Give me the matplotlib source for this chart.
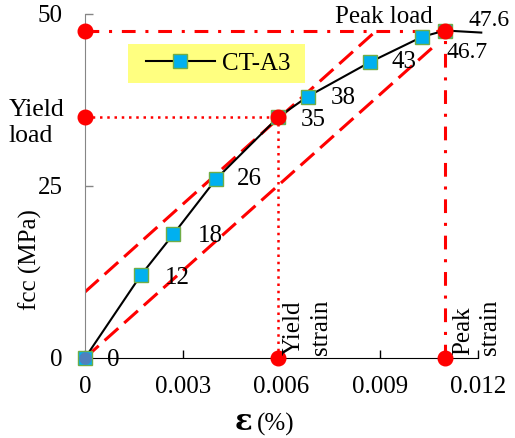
import numpy as np
import matplotlib.pyplot as plt
from matplotlib.lines import Line2D
from matplotlib.patches import Rectangle

plt.rcParams['font.family'] = ['Liberation Serif', 'DejaVu Serif']

# stress-strain data of CT-A3
strain = [0, 0.0017, 0.0027, 0.0040, 0.0059, 0.0068, 0.0087, 0.0103, 0.0110, 0.0121]
fcc = [0, 12, 18, 26, 35, 38, 43, 46.7, 47.6, 47.3]
n_marked = 9
point_labels = ['0', '12', '18', '26', '35', '38', '43', '46.7', '47.6']
label_offsets = [(22, -2), (24, -3), (24, -2), (21, 0), (23, -3), (23, -1), (22, 0), (24, -16), (23, 10)]

yield_strain = 0.0059
yield_load = 35
peak_strain = 0.011
peak_load = 47.6

# parallel lines used to locate yield point
upper_x = [0, 0.0089]
upper_y = [9.6, 47.6]
lower_x = [0, 0.0107]
lower_y = [0, 45.5]

xticks = [0, 0.003, 0.006, 0.009, 0.012]
xticklabels = ['0', '0.003', '0.006', '0.009', '0.012']
yticks = [0, 25, 50]

W, H = 515, 438


def fx(px):
    return px / W


def fy(py):
    return 1 - py / H


fig = plt.figure(figsize=(W / 100, H / 100), dpi=100)
ax = fig.add_axes([fx(85), fy(358), 393 / W, 344 / H])

red = '#ff0000'
ax.plot(upper_x, upper_y, color=red, lw=2.2, dashes=(6, 2.6), zorder=2)
ax.plot(lower_x, lower_y, color=red, lw=2.2, dashes=(6, 2.6), zorder=2)

# peak load / strain (dash-dot)
ax.plot([0, peak_strain], [peak_load, peak_load], color=red, lw=2.2, dashes=(4.5, 3.2, 1, 3.2), zorder=2)
ax.plot([peak_strain, peak_strain], [0, peak_load], color=red, lw=2.2, dashes=(4.5, 3.2, 1, 3.2), zorder=2)
# yield load / strain (dotted)
ax.plot([0, yield_strain], [yield_load, yield_load], color=red, lw=1.8, dashes=(1, 1.9), zorder=2)
ax.plot([yield_strain, yield_strain], [0, yield_load], color=red, lw=1.8, dashes=(1, 1.9), zorder=2)

ax.plot(strain, fcc, color='k', lw=1.5, zorder=3, clip_on=False)
mstyle = dict(marker='s', ms=9.5, mfc='#00b0f0', mec='#70ad47', mew=1)
ax.plot(strain[:n_marked], fcc[:n_marked], ls='none', zorder=4, clip_on=False, **mstyle)
ax.plot([0], [0], 'o', color='#4f81bd', ms=8, zorder=5, clip_on=False)

dots_x = [0, 0, yield_strain, peak_strain, yield_strain, peak_strain]
dots_y = [peak_load, yield_load, 0, 0, yield_load, peak_load]
ax.plot(dots_x, dots_y, 'o', color=red, ms=10.5, ls='none', zorder=6, clip_on=False)

for i, lab in enumerate(point_labels):
    fs = 17 if '.' in lab else 18
    ax.annotate(lab, (strain[i], fcc[i]), xytext=label_offsets[i], textcoords='offset pixels',
                ha='left', va='center', fontsize=fs, zorder=7)

ax.set_xlim(0, 0.012)
ax.set_ylim(0, 50)
ax.set_xticks(xticks)
ax.set_xticklabels(xticklabels)
ax.set_yticks(yticks)
for s in ['top', 'right']:
    ax.spines[s].set_visible(False)
ax.spines['left'].set_color('#868686')
ax.spines['bottom'].set_color('k')
ax.tick_params(axis='both', direction='in', length=6, width=1, labelsize=18)
ax.tick_params(axis='y', colors='#868686', labelcolor='k', pad=16)
ax.tick_params(axis='x', pad=13)

# yellow legend box
ax.add_patch(Rectangle((fx(128), fy(83)), 177 / W, 39 / H, transform=fig.transFigure,
                       facecolor='#ffff80', edgecolor='none', zorder=4.5, clip_on=False))
handle = Line2D([], [], color='k', lw=1.5, **mstyle)
leg = ax.legend([handle], ['CT-A3'], loc='center left', bbox_to_anchor=((146 - 85) / 393, (358 - 63.5) / 344),
                borderaxespad=0, borderpad=0, fontsize=18, handlelength=2.75, handletextpad=0.3,
                frameon=False, numpoints=1)

fig.text(fx(384), fy(17), 'Peak load', ha='center', va='center', fontsize=18)
fig.text(fx(9), fy(123), 'Yield\nload', ha='left', va='center', fontsize=18.5, linespacing=1.25)
fig.text(fx(30), fy(260), 'fcc (MPa)', ha='center', va='center', rotation=90, fontsize=18)
fig.text(fx(283), fy(355), 'Yield\nstrain', ha='left', va='bottom', rotation=90, fontsize=18,
         linespacing=1.3, multialignment='left')
fig.text(fx(452), fy(355), 'Peak\nstrain', ha='left', va='bottom', rotation=90, fontsize=18,
         linespacing=1.3, multialignment='left')
fig.text(fx(243), fy(422), '\u03b5', ha='center', va='center', fontsize=21, fontweight='bold',
         family='DejaVu Serif')
fig.text(fx(276), fy(424), '(%)', ha='center', va='center', fontsize=18)

fig.savefig('out.png', dpi=100)
